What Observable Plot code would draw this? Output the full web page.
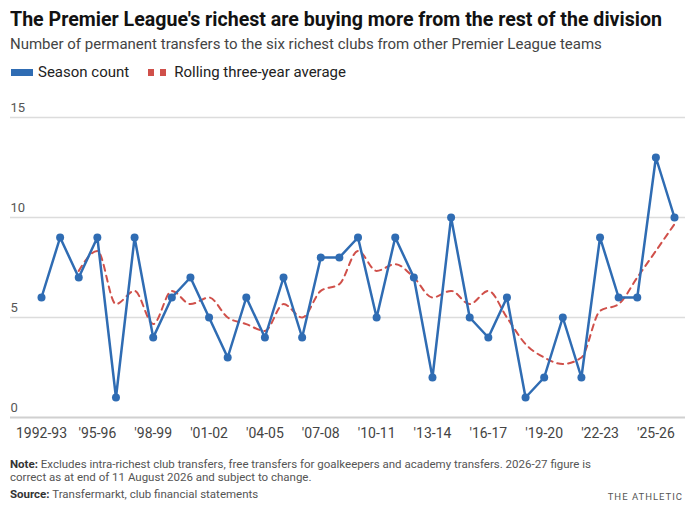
<!DOCTYPE html>
<html>
<head>
<meta charset="utf-8">
<script src="https://cdn.jsdelivr.net/npm/d3@7"></script>
<script src="https://cdn.jsdelivr.net/npm/@observablehq/plot@0.6"></script>
<style>
  html, body { margin: 0; padding: 0; background: #fff; }
  #wrap { position: relative; width: 691px; height: 512px; overflow: hidden; font-family: Roboto, "Noto Sans", sans-serif; }
  .abs { position: absolute; white-space: nowrap; }
  #title { left: 10px; top: 8px; font-family: Roboto, sans-serif; font-weight: 700; font-size: 20px; line-height: 22px; color: #121212; transform-origin: 0 50%; }
  #subtitle { left: 10px; top: 35px; font-size: 15px; line-height: 18px; color: #444; }
  #legend { left: 11px; top: 63px; font-size: 15px; line-height: 18px; color: #222; display: flex; align-items: center; }
  .sw-blue { display: inline-block; width: 22px; height: 7px; background: #2f6cb3; margin-right: 5px; }
  .sw-red { display: inline-block; width: 6px; height: 7px; background: #d0504a; margin-right: 6px; }
  #chart { left: 0; top: 95px; }
  #note { left: 10px; top: 458px; font-size: 11.5px; line-height: 13px; color: #555; }
  #note b, #source b { color: #333; font-weight: 700; }
  #source { left: 10px; top: 488px; font-size: 11.5px; line-height: 13px; color: #555; }
  #brand { right: 8px; top: 491px; font-size: 9.5px; letter-spacing: 1px; color: #555; }
</style>
</head>
<body>
<div id="wrap">
  <div id="title" class="abs">The Premier League's richest are buying more from the rest of the division</div>
  <div id="subtitle" class="abs">Number of permanent transfers to the six richest clubs from other Premier League teams</div>
  <div id="legend" class="abs"><span class="sw-blue"></span><span>Season count</span><span style="display:inline-block;width:19px"></span><span class="sw-red"></span><span class="sw-red"></span><span style="margin-left:2px">Rolling three-year average</span></div>
  <div id="chart" class="abs"></div>
  <div id="note" class="abs"><b>Note:</b> Excludes intra-richest club transfers, free transfers for goalkeepers and academy transfers. 2026-27 figure is<br>correct as at end of 11 August 2026 and subject to change.</div>
  <div id="source" class="abs"><b>Source:</b> Transfermarkt, club financial statements</div>
  <div id="brand" class="abs">THE ATHLETIC</div>
</div>
<script>
const seasons = ["1992-93","1993-94","1994-95","1995-96","1996-97","1997-98","1998-99","1999-00","2000-01","2001-02","2002-03","2003-04","2004-05","2005-06","2006-07","2007-08","2008-09","2009-10","2010-11","2011-12","2012-13","2013-14","2014-15","2015-16","2016-17","2017-18","2018-19","2019-20","2020-21","2021-22","2022-23","2023-24","2024-25","2025-26","2026-27"];
const seasonCount = [6,9,7,9,1,9,4,6,7,5,3,6,4,7,4,8,8,9,5,9,7,2,10,5,4,6,1,2,5,2,9,6,6,13,10];
const rollingAvg = [null,null,7.33,8.33,5.67,6.33,4.67,6.33,5.67,6,5,4.67,4.33,5.67,5,6.33,6.67,8.33,7.33,7.67,7,6,6.33,5.67,6.33,5,3.67,3,2.67,3,5.33,5.67,7,8.33,9.67];
const yTicks = [0,5,10,15];
const xTickSeasons = ["1992-93","1995-96","1998-99","2001-02","2004-05","2007-08","2010-11","2013-14","2016-17","2019-20","2022-23","2025-26"];
const xTickLabels = ["1992-93","'95-96","'98-99","'01-02","'04-05","'07-08","'10-11","'13-14","'16-17","'19-20","'22-23","'25-26"];

const rows = seasons.map((s, i) => ({i, season: s, count: seasonCount[i], avg: rollingAvg[i]}));
const avgRows = rows.filter(d => d.avg != null);
const tickIdx = xTickSeasons.map(s => seasons.indexOf(s));
const labelOf = new Map(tickIdx.map((t, k) => [t, xTickLabels[k]]));

const chart = Plot.plot({
  width: 691,
  height: 360,
  marginLeft: 10,
  marginRight: 6,
  marginTop: 22,
  marginBottom: 38,
  style: {fontFamily: "Roboto, 'Noto Sans', sans-serif", background: "transparent"},
  x: {type: "linear", domain: [0, seasons.length - 1], range: [41, 674]},
  y: {domain: [0, 15], axis: null},
  marks: [
    Plot.ruleY(yTicks.filter(d => d > 0), {stroke: "#dcdcdc", strokeWidth: 1.5}),
    Plot.ruleY([0], {stroke: "#d0d0d0", strokeWidth: 2}),
    Plot.text(yTicks, {y: d => d, text: d => String(d), frameAnchor: "left", textAnchor: "start", dy: -10, fontSize: 13, fill: "#555"}),
    Plot.axisX(tickIdx, {tickSize: 0, tickPadding: 11, tickFormat: d => labelOf.get(d), fontSize: 14, fill: "#444", label: null}),
    Plot.line(avgRows, {x: "i", y: "avg", stroke: "#d0504a", strokeWidth: 2, strokeDasharray: "6,5", curve: "monotone-x"}),
    Plot.line(rows, {x: "i", y: "count", stroke: "#2f6cb3", strokeWidth: 2.5}),
    Plot.dot(rows, {x: "i", y: "count", r: 4, fill: "#2f6cb3"})
  ]
});
document.getElementById("chart").appendChild(chart);

// fit the condensed title to the reference width
const title = document.getElementById("title");
const w = title.getBoundingClientRect().width;
title.style.transform = `scaleX(${652 / w})`;
</script>
</body>
</html>
